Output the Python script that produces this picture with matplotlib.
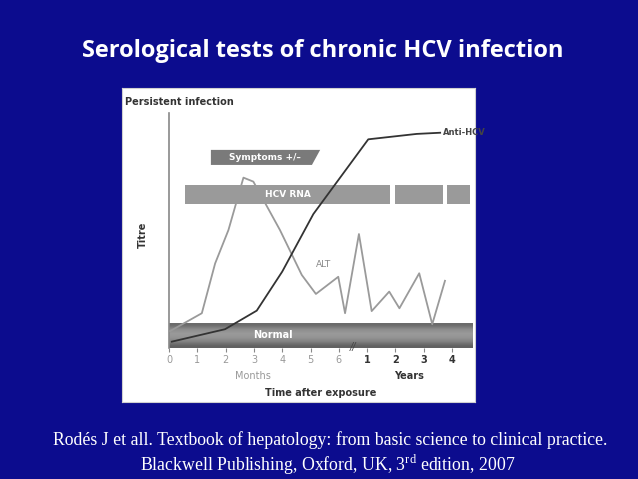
import matplotlib.pyplot as plt
from matplotlib.patches import Rectangle, Polygon
import numpy as np

plt.rcParams['mathtext.fontset'] = 'custom'
plt.rcParams['mathtext.rm'] = 'Liberation Serif'

# months 0-6 sit at positions 0-6, years 1-4 at positions 7-10
tick_pos = [0, 1, 2, 3, 4, 5, 6, 7, 8, 9, 10]
tick_labels = ["0", "1", "2", "3", "4", "5", "6", "1", "2", "3", "4"]

anti_hcv_x = [0.1, 1.98, 3.1, 4.0, 5.1, 7.04, 8.75, 9.58]
anti_hcv_y = [2.7, 8.0, 15.9, 32.5, 57.0, 88.8, 91.1, 91.6]

alt_x = [0.04, 1.16, 1.63, 2.1, 2.63, 2.98, 3.92, 4.69, 5.19, 5.98, 6.22,
         6.71, 7.16, 7.78, 8.14, 8.84, 9.3, 9.75]
alt_y = [7.2, 14.8, 36.0, 50.2, 72.5, 70.8, 50.2, 31.1, 23.0, 30.3, 14.8,
         48.5, 15.7, 24.0, 16.9, 31.8, 10.1, 28.6]

# HCV RNA bar segments (start, end)
rna_segments = [(0.57, 7.81), (7.99, 9.68), (9.82, 10.64)]

bg = "#0c0c8e"
fig = plt.figure(figsize=(6.38, 4.79), dpi=100, facecolor=bg)

fig.text(322.5 / 638, 1 - 51 / 479, "Serological tests of chronic HCV infection",
         color="white", fontsize=17, fontweight="bold", family="Open Sans",
         ha="center", va="center")

# white panel holding the figure
panel = fig.add_axes([122 / 638, 1 - 402 / 479, 353 / 638, 314 / 479])
panel.set_xticks([])
panel.set_yticks([])
panel.set_facecolor("white")
for s in panel.spines.values():
    s.set_color("#d0d0d0")
    s.set_linewidth(0.8)

ax = fig.add_axes([169 / 638, 1 - 348 / 479, 304 / 638, 235 / 479])
ax.set_xlim(0, 10.74)
ax.set_ylim(0, 100)
ax.patch.set_alpha(0)
for s in ["top", "right", "bottom"]:
    ax.spines[s].set_visible(False)
ax.spines["left"].set_color("#888888")
ax.spines["left"].set_linewidth(1.2)
ax.set_yticks([])

# normal range band with darker edges
grad = np.array([0.42, 0.55, 0.6, 0.58, 0.5, 0.38]).reshape(-1, 1)
ax.imshow(grad, extent=[0, 10.74, 0, 10.6], cmap="gray", vmin=0, vmax=1,
          aspect="auto", zorder=1, interpolation="bilinear")
ax.text(3.67, 5.5, "Normal", color="white", fontsize=7, fontweight="bold",
        ha="center", va="center", zorder=2)

for a, b in rna_segments:
    ax.add_patch(Rectangle((a, 61.3), b - a, 8.1, facecolor="#9a9a9a",
                           edgecolor="none", zorder=1))
ax.text(4.2, 65.3, "HCV RNA", color="white", fontsize=6.5, fontweight="bold",
        ha="center", va="center", zorder=2)

ax.add_patch(Polygon([(1.48, 77.9), (1.48, 84.3), (5.34, 84.3), (5.05, 77.9)],
                     closed=True, facecolor="#7a7a7a", edgecolor="none", zorder=1))
ax.text(3.4, 81.1, "Symptoms +/\u2013", color="white", fontsize=6.5,
        fontweight="bold", ha="center", va="center", zorder=2)

ax.plot(alt_x, alt_y, color="#9a9a9a", lw=1.3, zorder=3)
ax.plot(anti_hcv_x, anti_hcv_y, color="#333333", lw=1.3, zorder=4)
ax.text(5.45, 35.5, "ALT", color="#888888", fontsize=6.5, ha="center",
        va="center")
ax.text(9.68, 91.8, "Anti-HCV", color="#444444", fontsize=6,
        fontweight="bold", ha="left", va="center")

ax.set_xticks(tick_pos)
ax.set_xticklabels(tick_labels, fontsize=7)
ax.tick_params(axis="x", length=3, color="#888888", pad=2)
for i, lab in enumerate(ax.get_xticklabels()):
    if i < 7:
        lab.set_color("#999999")
    else:
        lab.set_color("#333333")
        lab.set_fontweight("bold")
ax.text(6.5, 0.6, "//", color="#444444", fontsize=7, ha="center", va="center",
        style="italic", clip_on=False, zorder=5)

ax.text(2.97, -11.9, "Months", color="#999999", fontsize=7, ha="center",
        va="center", clip_on=False)
ax.text(8.48, -11.9, "Years", color="#333333", fontsize=7, fontweight="bold",
        ha="center", va="center", clip_on=False)
ax.text(5.35, -19.1, "Time after exposure", color="#333333", fontsize=7,
        fontweight="bold", ha="center", va="center", clip_on=False)
ax.text(-0.92, 48, "Titre", color="#333333", fontsize=7, fontweight="bold",
        rotation=90, ha="center", va="center", clip_on=False)
ax.text(-1.55, 104.5, "Persistent infection", color="#333333", fontsize=7,
        fontweight="bold", ha="left", va="center", clip_on=False)

cite_font = dict(color="white", fontsize=12.8, family="Liberation Serif",
                 ha="center", va="center")
fig.text(330 / 638, 1 - 440 / 479,
         "Rod\u00e9s J et all. Textbook of hepatology: from basic science to clinical practice.",
         **cite_font)
fig.text(328 / 638, 1 - 465 / 479,
         "Blackwell Publishing, Oxford, UK, 3$^{\\rm rd}$ edition, 2007",
         **cite_font)

fig.savefig("out.png", dpi=100, facecolor=bg)
